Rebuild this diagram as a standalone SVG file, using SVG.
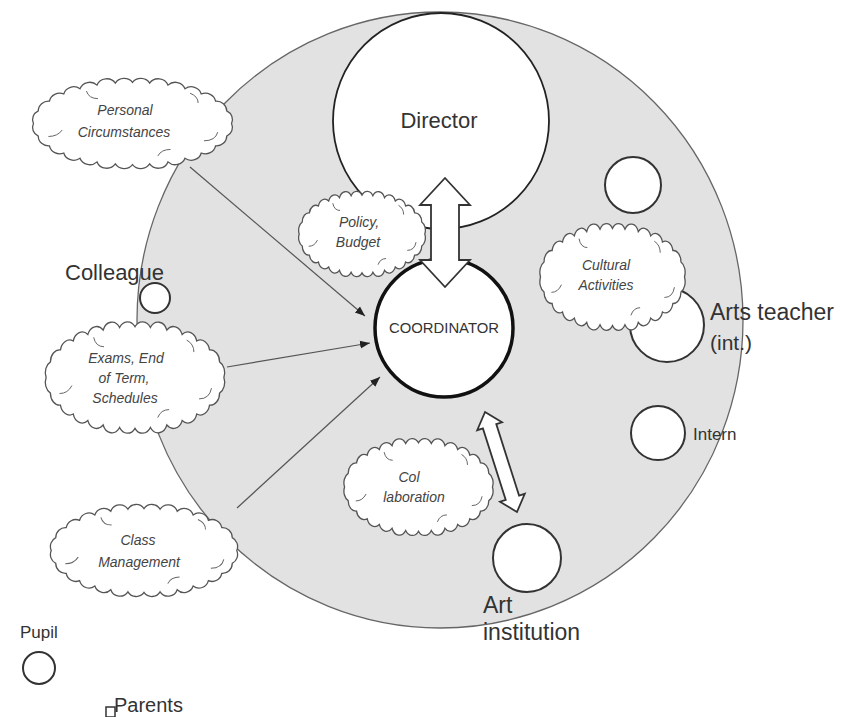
<svg xmlns="http://www.w3.org/2000/svg" width="860" height="717" viewBox="0 0 860 717">
<style>
text{font-family:"Liberation Sans",Arial,sans-serif;fill:#333}
.lbl{font-size:22px}
.ct{font-size:14px;font-style:italic;fill:#444;text-anchor:middle}
.node{fill:#fff;stroke:#333;stroke-width:2}
.con{stroke:#555;stroke-width:1.2;fill:none}
.blk{fill:#fff;stroke:#333;stroke-width:1.8;stroke-linejoin:miter}
</style>
<defs>
<symbol id="cloud" viewBox="11 7 178 86" preserveAspectRatio="none" overflow="visible">
<path vector-effect="non-scaling-stroke" fill="#fff" stroke="#555" stroke-width="1.3" d="M186 50 A9 9 0 0 1 181.8 61.7 A9 9 0 0 1 172.1 70.7 A9 9 0 0 1 159.7 77.3 A9 9 0 0 1 145.6 82.2 A9 9 0 0 1 130.8 85.5 A9 9 0 0 1 114.9 87.4 A9 9 0 0 1 100 88 A9 9 0 0 1 85.1 87.4 A9 9 0 0 1 69.2 85.5 A9 9 0 0 1 54.4 82.2 A9 9 0 0 1 40.3 77.3 A9 9 0 0 1 27.9 70.7 A9 9 0 0 1 18.2 61.7 A9 9 0 0 1 14 50 A9 9 0 0 1 18.2 38.3 A9 9 0 0 1 27.9 29.3 A9 9 0 0 1 40.3 22.7 A9 9 0 0 1 54.4 17.8 A9 9 0 0 1 69.2 14.5 A9 9 0 0 1 85.1 12.6 A9 9 0 0 1 100 12 A9 9 0 0 1 114.9 12.6 A9 9 0 0 1 130.8 14.5 A9 9 0 0 1 145.6 17.8 A9 9 0 0 1 159.7 22.7 A9 9 0 0 1 172.1 29.3 A9 9 0 0 1 181.8 38.3 A9 9 0 0 1 186 50 Z"/>
<path vector-effect="non-scaling-stroke" fill="none" stroke="#666" stroke-width="1" d="M162 66 Q172 66 174 58 M122 80 Q125 74 133 74 M27 62 Q35 62 39 56 M60 20 Q62 27 70 27 M150 22 Q157 25 157 31"/>
</symbol>
<marker id="ah" viewBox="0 0 10 10" refX="10" refY="5" markerWidth="10" markerHeight="10" markerUnits="userSpaceOnUse" orient="auto">
<path d="M0 1 L10 5 L0 9 Z" fill="#222"/>
</marker>
</defs>
<rect width="860" height="717" fill="#fff"/>
<g id="context">
<ellipse cx="440" cy="320" rx="303" ry="308" fill="#e2e2e2" stroke="#666" stroke-width="1.3"/>
</g>
<g id="director">
<circle cx="441" cy="121" r="108" fill="#fff" stroke="#222" stroke-width="1.8"/>
<text x="439" y="128" text-anchor="middle" style="font-size:22px">Director</text>
</g>
<g id="colleague">
<circle cx="155" cy="298" r="15" class="node"/>
<text x="65" y="280" class="lbl">Colleague</text>
</g>
<g id="node-small-top">
<circle cx="633" cy="185" r="28" class="node"/>
</g>
<g id="arts-teacher">
<circle cx="667" cy="325" r="37" class="node"/>
<text x="710" y="320" style="font-size:23px">Arts teacher</text>
<text x="710" y="350" style="font-size:21px">(int.)</text>
</g>
<g id="intern">
<circle cx="658" cy="433" r="27" class="node"/>
<text x="693" y="440" style="font-size:17px">Intern</text>
</g>
<g id="art-institution">
<circle cx="527" cy="558" r="34" class="node"/>
<text x="483" y="613" style="font-size:23px">Art</text>
<text x="483" y="640" style="font-size:23px">institution</text>
</g>
<g id="pupil">
<circle cx="39" cy="668" r="16" class="node"/>
<text x="20" y="638" style="font-size:17px">Pupil</text>
</g>
<g id="parents">
<rect x="106" y="707" width="9" height="10" fill="#fff" stroke="#333" stroke-width="1.5"/>
<text x="114" y="712" style="font-size:20px">Parents</text>
</g>
<g id="coordinator">
<circle cx="444" cy="328" r="69" fill="#fff" stroke="#111" stroke-width="3.5"/>
<text x="444" y="333" text-anchor="middle" style="font-size:14px" textLength="110" lengthAdjust="spacingAndGlyphs">COORDINATOR</text>
</g>
<g id="cloud-personal">
<use href="#cloud" x="30" y="77" width="205" height="93"/>
<text class="ct" x="125" y="115">Personal</text>
<text class="ct" x="124" y="137">Circumstances</text>
</g>
<g id="cloud-policy">
<use href="#cloud" x="297" y="190" width="130" height="88"/>
<text class="ct" x="359" y="227">Policy,</text>
<text class="ct" x="358" y="247">Budget</text>
</g>
<g id="cloud-exams">
<use href="#cloud" x="43" y="320" width="184" height="115"/>
<text class="ct" x="126" y="363">Exams, End</text>
<text class="ct" x="124" y="383">of Term,</text>
<text class="ct" x="125" y="403">Schedules</text>
</g>
<g id="cloud-class">
<use href="#cloud" x="48" y="503" width="192" height="95"/>
<text class="ct" x="138" y="545">Class</text>
<text class="ct" x="139" y="567">Management</text>
</g>
<g id="cloud-cultural">
<use href="#cloud" x="538" y="222" width="149" height="110"/>
<text class="ct" x="606" y="270">Cultural</text>
<text class="ct" x="606" y="290">Activities</text>
</g>
<g id="cloud-collaboration">
<use href="#cloud" x="342" y="437" width="153" height="100"/>
<text class="ct" x="409" y="482">Col</text>
<text class="ct" x="414" y="502">laboration</text>
</g>
<g id="connectors">
<line class="con" x1="190" y1="167" x2="365" y2="316" marker-end="url(#ah)"/>
<line class="con" x1="227" y1="367" x2="370" y2="343" marker-end="url(#ah)"/>
<line class="con" x1="237" y1="508" x2="380" y2="377" marker-end="url(#ah)"/>
<polygon class="blk" points="445,178 470,205 459,205 459,260 470,260 445,287 420,260 431,260 431,205 420,205"/>
<polygon class="blk" transform="translate(501 462) rotate(72.3)" points="-52.5,0 -37.5,-13 -37.5,-7 37.5,-7 37.5,-13 52.5,0 37.5,13 37.5,7 -37.5,7 -37.5,13"/>
</g>
</svg>
